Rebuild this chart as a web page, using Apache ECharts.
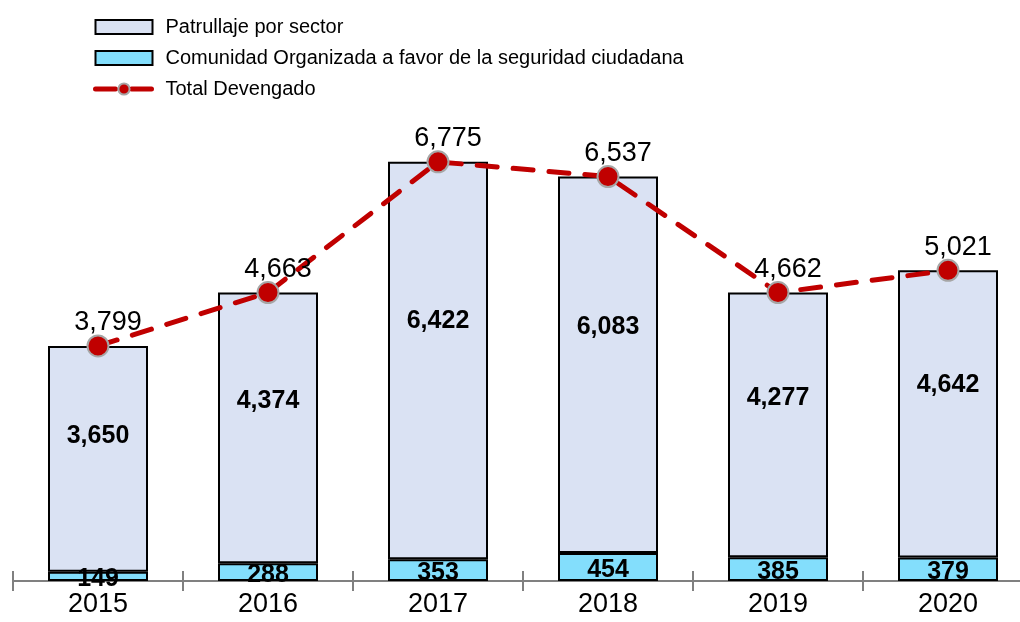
<!DOCTYPE html>
<html>
<head>
<meta charset="utf-8">
<script src="https://cdn.jsdelivr.net/npm/echarts@6/dist/echarts.min.js"></script>
<style>
  html, body { margin: 0; padding: 0; background: #fff; }
  #chart { width: 1020px; height: 622px; }
</style>
</head>
<body>
<div id="chart"></div>
<script>
// datos del gráfico
const years = ["2015", "2016", "2017", "2018", "2019", "2020"];
const patrullaje = [3650, 4374, 6422, 6083, 4277, 4642];
const comunidad = [149, 288, 353, 454, 385, 379];
const totalDevengado = [3799, 4663, 6775, 6537, 4662, 5021];

const FONT = "'Liberation Sans', Arial, sans-serif";
const fmt = v => v.toLocaleString("en-US");

let chart = echarts.init(document.getElementById("chart"));
let option = {
  animation: false,
  textStyle: { fontFamily: FONT, color: "#000" },
  legend: {
    orient: "vertical",
    left: 93,
    top: 17,
    padding: 0,
    itemWidth: 57,
    itemHeight: 14,
    itemGap: 11,
    textStyle: { fontFamily: FONT, fontSize: 20, color: "#000", padding: [0, 0, 0, 8] },
    data: [
      { name: "Patrullaje por sector", icon: "rect" },
      { name: "Comunidad Organizada a favor de la seguridad ciudadana", icon: "rect" },
      { name: "Total Devengado", lineStyle: { width: 5 } }
    ]
  },
  grid: { left: 13, width: 1020, top: 117, bottom: 41, outerBoundsMode: "none" },
  xAxis: [
    {
      type: "category",
      data: years,
      axisLine: { lineStyle: { color: "#808080", width: 2 } },
      axisTick: { show: true, length: 10, lineStyle: { color: "#808080", width: 2 } },
      axisLabel: { fontFamily: FONT, fontSize: 27, color: "#000", margin: 10 }
    },
    {
      type: "category",
      data: years,
      position: "bottom",
      axisLine: { show: false },
      axisTick: { show: true, inside: true, length: 10, lineStyle: { color: "#808080", width: 2 } },
      axisLabel: { show: false }
    }
  ],
  yAxis: {
    type: "value",
    min: 0,
    max: 7500,
    show: false,
    splitLine: { show: false }
  },
  series: [
    {
      name: "Comunidad Organizada a favor de la seguridad ciudadana",
      type: "bar",
      stack: "total",
      barWidth: 100,
      data: comunidad,
      itemStyle: { color: "#83DEFC", borderColor: "#000", borderWidth: 2 },
      label: {
        show: true,
        position: "inside",
        offset: [0, 3],
        fontFamily: FONT,
        fontSize: 25,
        fontWeight: "bold",
        color: "#000",
        formatter: p => fmt(p.value)
      },
      z: 2
    },
    {
      name: "Patrullaje por sector",
      type: "bar",
      stack: "total",
      barWidth: 100,
      data: patrullaje,
      itemStyle: { color: "#DAE2F3", borderColor: "#000", borderWidth: 2 },
      label: {
        show: true,
        position: ["50%", "40%"],
        align: "center",
        verticalAlign: "middle",
        fontFamily: FONT,
        fontSize: 25,
        fontWeight: "bold",
        color: "#000",
        formatter: p => fmt(p.value)
      },
      z: 2
    },
    {
      name: "Total Devengado",
      type: "line",
      data: totalDevengado,
      symbol: "circle",
      symbolSize: 21,
      itemStyle: { color: "#C00000", borderColor: "#A6A6A6", borderWidth: 2 },
      lineStyle: { color: "#C00000", width: 5, type: [20, 16], cap: "round" },
      label: {
        show: true,
        position: "top",
        distance: -2,
        offset: [10, 0],
        fontFamily: FONT,
        fontSize: 27,
        color: "#000",
        formatter: p => fmt(p.value)
      },
      z: 5
    }
  ]
};
chart.setOption(option);
</script>
</body>
</html>
